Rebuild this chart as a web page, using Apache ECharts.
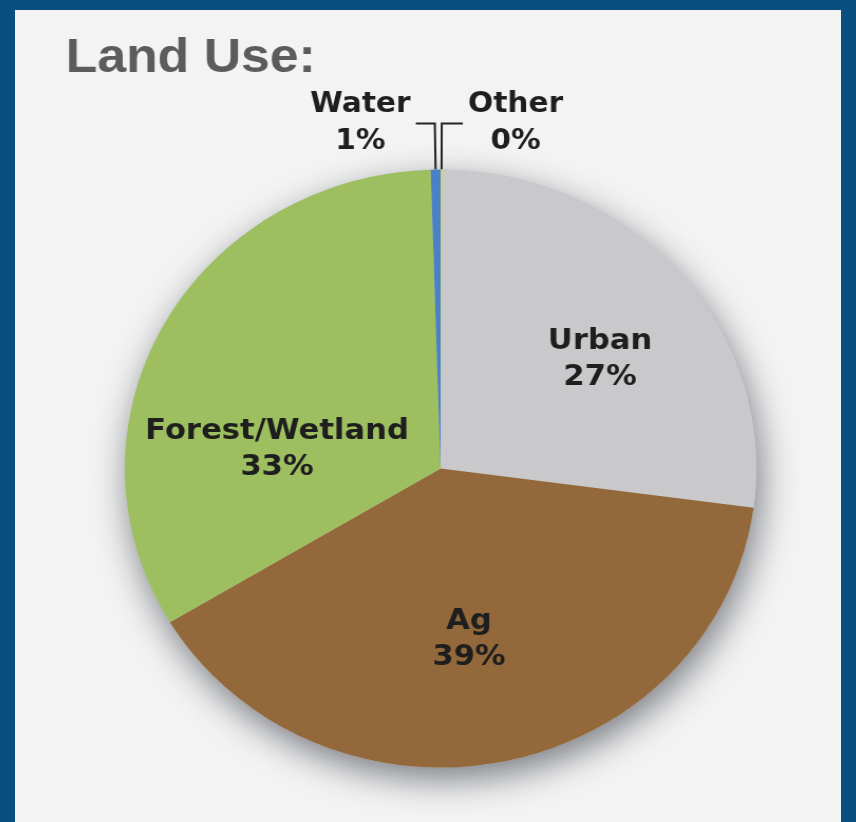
<!DOCTYPE html>
<html>
<head>
<meta charset="utf-8">
<script src="https://cdn.jsdelivr.net/npm/echarts@6/dist/echarts.min.js"></script>
<style>
  html, body { margin: 0; padding: 0; width: 856px; height: 822px; background: #08507f; overflow: hidden; }
  #panel { position: absolute; left: 15px; top: 10px; width: 826px; height: 812px; background: #f3f3f3; }
  #chart { position: absolute; left: 15px; top: 10px; width: 782px; height: 812px;
           transform: scaleX(1.056); transform-origin: 0 0; }
</style>
</head>
<body>
<div id="panel"></div>
<div id="chart"></div>
<script>
// Data (clockwise from 12 o'clock)
const categories = ['Other', 'Urban', 'Ag', 'Forest/Wetland', 'Water'];
const values = [0.1, 27.0, 39.3, 33.1, 0.5];
const colors = ['#d8d860', '#c9c8cb', '#93683a', '#9dbf5f', '#4a80c8'];
const titleText = 'Land Use:';

const total = values.reduce((a, b) => a + b, 0);

const innerOffsets = { 'Urban': [36, -9], 'Ag': [-4, 22], 'Forest/Wetland': [-21, 54] };
const outerLen = { 'Other': [46, 20], 'Water': [46, 18] };

const data = categories.map((name, i) => {
  const item = { name: name, value: values[i], itemStyle: { color: colors[i] } };
  if (outerLen[name]) {
    item.label = {
      position: 'outside',
      formatter: p => '{t|' + p.name + '}\n{t|' + Math.round(p.percent) + '%}',
      rich: { t: { align: 'center', fontFamily: 'DejaVu Sans', fontWeight: 'bold', fontSize: 28, lineHeight: 37, color: '#1e1e1e' } }
    };
    item.labelLine = { show: true, length: outerLen[name][0], length2: outerLen[name][1], smooth: false,
      lineStyle: { color: '#222', width: 2 } };
  } else {
    item.label = { position: 'inside', offset: innerOffsets[name] };
    item.labelLine = { show: false };
  }
  return item;
});

const chart = echarts.init(document.getElementById('chart'), null, { renderer: 'canvas' });
chart.setOption({
  backgroundColor: 'transparent',
  animation: false,
  title: {
    text: titleText,
    left: 43,
    top: 19,
    textStyle: { fontFamily: 'Liberation Sans', fontWeight: 'bold', fontSize: 49, color: '#5c5c5c' }
  },
  series: [
    {
      type: 'pie',
      silent: true,
      center: [403, 458.5],
      radius: 299,
      z: 1,
      label: { show: false },
      labelLine: { show: false },
      data: [{ value: total, itemStyle: { color: '#c9c8cb', shadowBlur: 34, shadowOffsetY: 12, shadowOffsetX: 4, shadowColor: 'rgba(40,45,55,0.6)' } }]
    },
    {
      type: 'pie',
      center: [403, 458.5],
      radius: 299,
      startAngle: 90,
      clockwise: true,
      avoidLabelOverlap: false,
      z: 2,
      label: {
        show: true,
        formatter: p => p.name + '\n' + Math.round(p.percent) + '%',
        fontFamily: 'DejaVu Sans',
        fontWeight: 'bold',
        fontSize: 29,
        lineHeight: 36,
        color: '#1e1e1e'
      },
      itemStyle: { borderWidth: 0 },
      data: data
    }
  ]
});
</script>
</body>
</html>
